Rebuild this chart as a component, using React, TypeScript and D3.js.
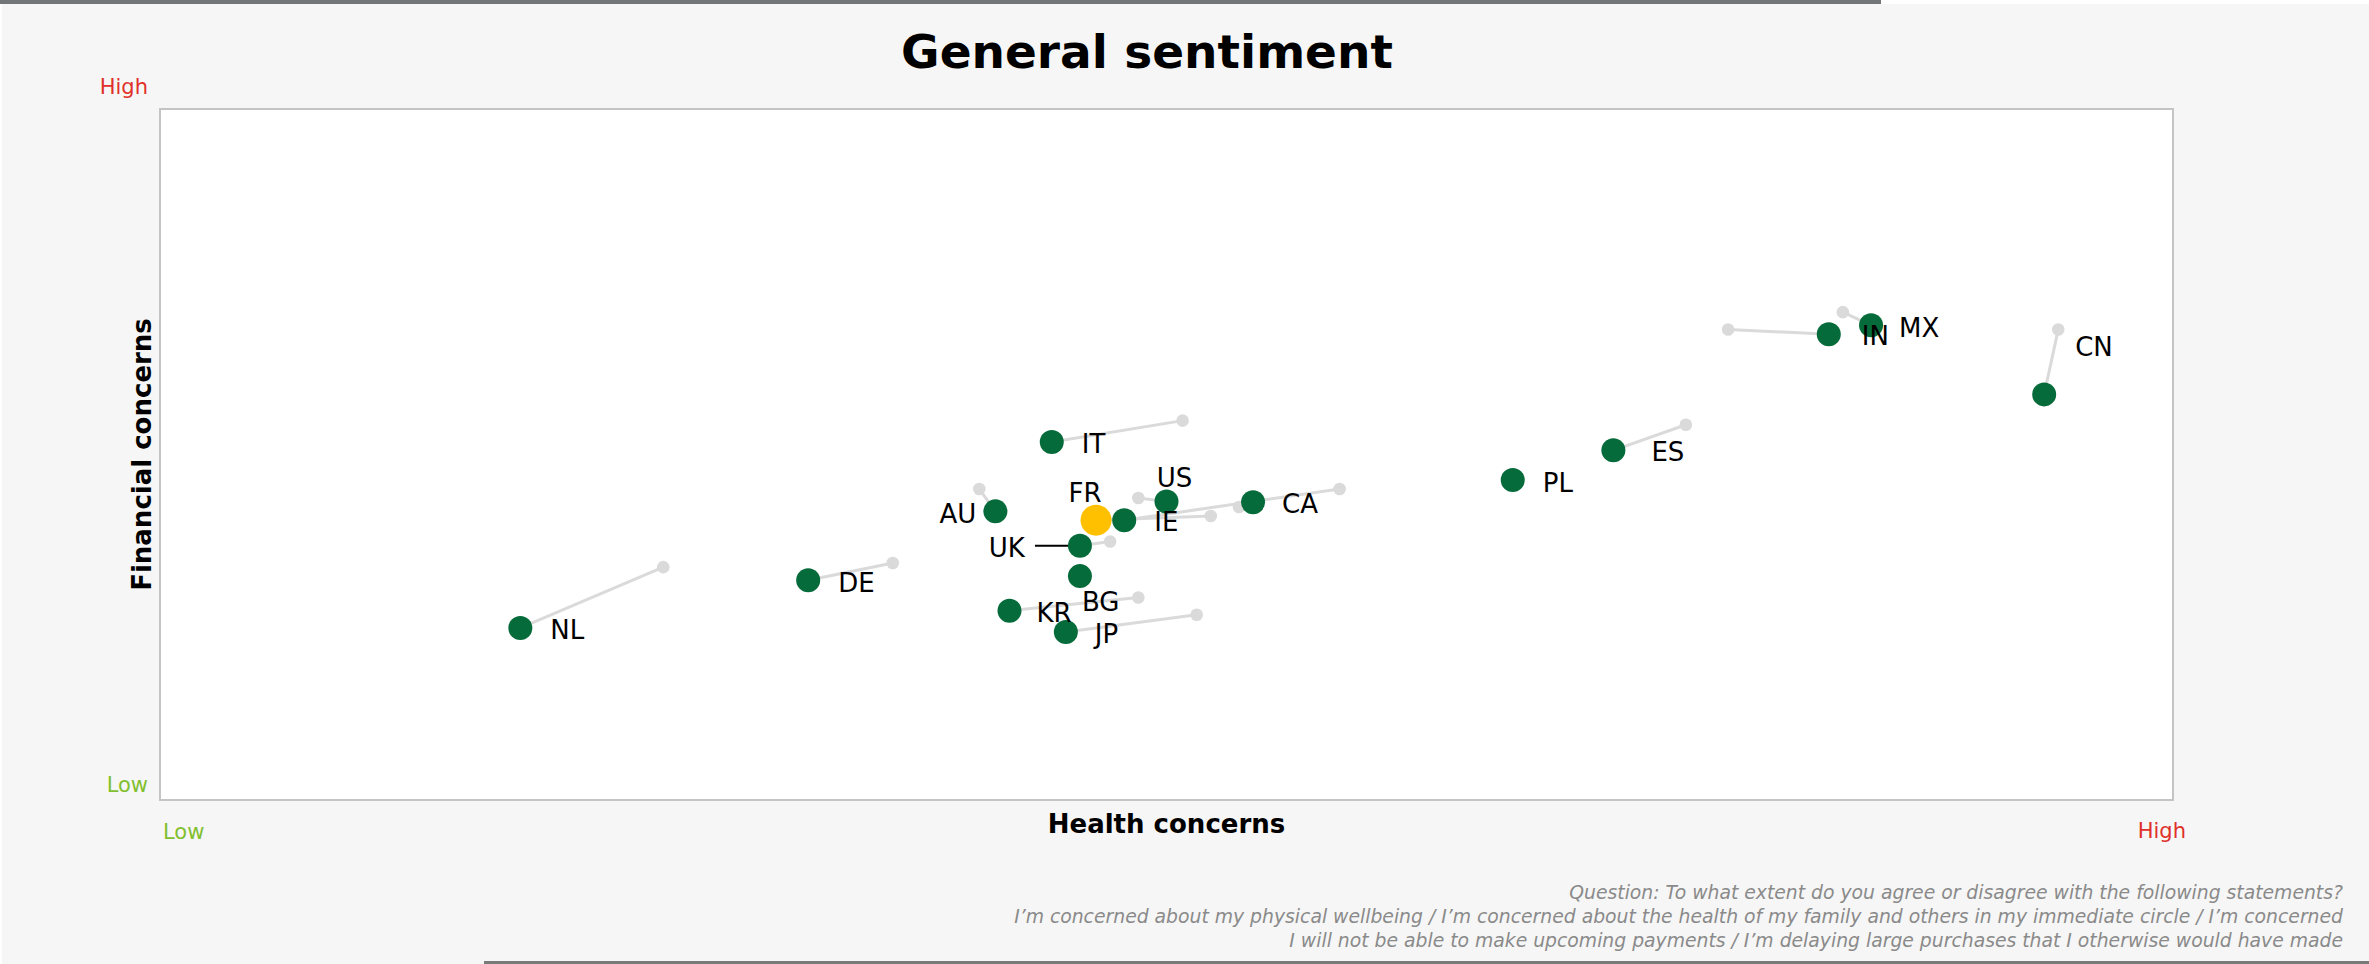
import React from "react";
import * as d3 from "d3";

const countries = ["NL", "DE", "AU", "IT", "FR", "US", "IE", "CA", "UK", "BG", "KR", "JP", "PL", "ES", "IN", "MX", "CN"];
const healthNow = [17.9, 32.2, 41.5, 44.3, 46.5, 50.0, 47.9, 54.3, 45.7, 45.7, 42.2, 45.0, 67.2, 72.2, 82.9, 85.0, 93.6];
const financialNow = [24.9, 31.8, 41.8, 51.8, 40.5, 43.2, 40.5, 43.1, 36.8, 32.4, 27.4, 24.3, 46.3, 50.6, 67.4, 68.7, 58.7];
const healthPrev: (number | null)[] = [25.0, 36.4, 40.7, 50.8, 52.2, 48.6, 58.6, 53.6, 47.2, null, 48.6, 51.5, null, 75.8, 77.9, 83.6, 94.3];
const financialPrev: (number | null)[] = [33.7, 34.3, 45.0, 54.9, 41.1, 43.7, 45.0, 42.4, 37.4, null, 29.3, 26.8, null, 54.3, 68.1, 70.6, 68.1];
const highlighted = "FR";

const title = "General sentiment";
const xAxisTitle = "Health concerns";
const yAxisTitle = "Financial concerns";
const lowLabel = "Low";
const highLabel = "High";
const footnotes = [
  "Question: To what extent do you agree or disagree with the following statements?",
  "I’m concerned about my physical wellbeing / I’m concerned about the health of my family and others in my immediate circle / I’m concerned",
  "I will not be able to make upcoming payments / I’m delaying large purchases that I otherwise would have made",
];

// label placement (layout only)
const labelPlacement: Record<string, { dx: number; dy: number; anchor: string; leader?: number }> = {
  NL: { dx: 30, dy: 11, anchor: "start" },
  DE: { dx: 30, dy: 12, anchor: "start" },
  AU: { dx: -19, dy: 12, anchor: "end" },
  IT: { dx: 30, dy: 11, anchor: "start" },
  FR: { dx: -11, dy: -18, anchor: "middle" },
  US: { dx: 8, dy: -14, anchor: "middle" },
  IE: { dx: 30, dy: 11, anchor: "start" },
  CA: { dx: 29, dy: 11, anchor: "start" },
  UK: { dx: -55, dy: 11, anchor: "end", leader: 45 },
  BG: { dx: 2, dy: 35, anchor: "start" },
  KR: { dx: 27, dy: 11, anchor: "start" },
  JP: { dx: 29, dy: 11, anchor: "start" },
  PL: { dx: 30, dy: 12, anchor: "start" },
  ES: { dx: 38, dy: 11, anchor: "start" },
  IN: { dx: 33, dy: 11, anchor: "start" },
  MX: { dx: 28, dy: 12, anchor: "start" },
  CN: { dx: 31, dy: -38, anchor: "start" },
};

const W = 2369;
const H = 964;
const FONT = "'DejaVu Sans', Verdana, sans-serif";

export default function App() {
  const left = 160, right = 2173, top = 109, bottom = 800;
  const x = d3.scaleLinear().domain([0, 100]).range([left, right]);
  const y = d3.scaleLinear().domain([0, 100]).range([bottom, top]);

  const green = "#066b3a";
  const yellow = "#ffc000";
  const grey = "#dadada";
  const red = "#e0302a";
  const lime = "#82bf2e";

  return (
    <svg width={W} height={H} style={{ position: "absolute", left: 0, top: 0, display: "block" }} fontFamily={FONT}>
      <rect x={0} y={0} width={W} height={H} fill="#ffffff" />
      <rect x={2} y={4} width={W - 2} height={H - 4} fill="#f6f6f6" />
      <rect x={0} y={0} width={1881} height={4} fill="#737679" />
      <rect x={484} y={961} width={W - 484} height={3} fill="#7a7a7a" />

      <text x={1147} y={68} textAnchor="middle" fontSize={47} fontWeight="bold" fill="#000">{title}</text>

      <rect x={left} y={top} width={right - left} height={bottom - top} fill="#ffffff" stroke="#c4c4c4" strokeWidth={2} />

      <text x={148} y={94} textAnchor="end" fontSize={21} fill={red}>{highLabel}</text>
      <text x={148} y={792} textAnchor="end" fontSize={21} fill={lime}>{lowLabel}</text>
      <text x={163} y={839} textAnchor="start" fontSize={21} fill={lime}>{lowLabel}</text>
      <text x={2186} y={838} textAnchor="end" fontSize={21} fill={red}>{highLabel}</text>

      <text x={(left + right) / 2} y={833} textAnchor="middle" fontSize={26} fontWeight="bold" fill="#000">{xAxisTitle}</text>
      <text transform={`translate(151,${(top + bottom) / 2}) rotate(-90)`} textAnchor="middle" fontSize={26} fontWeight="bold" fill="#000">{yAxisTitle}</text>

      <g>
        {countries.map((c, i) => {
          const hp = healthPrev[i], fp = financialPrev[i];
          if (hp == null || fp == null) return null;
          return (
            <line key={"l" + c} x1={x(healthNow[i])} y1={y(financialNow[i])} x2={x(hp)} y2={y(fp)} stroke={grey} strokeWidth={3} />
          );
        })}
        {countries.map((c, i) => {
          const hp = healthPrev[i], fp = financialPrev[i];
          if (hp == null || fp == null) return null;
          return <circle key={"p" + c} cx={x(hp)} cy={y(fp)} r={6.3} fill={grey} />;
        })}
        {countries.map((c, i) => {
          const lp = labelPlacement[c];
          if (!lp.leader) return null;
          const cx = x(healthNow[i]), cy = y(financialNow[i]);
          return <line key={"ld" + c} x1={cx - lp.leader} y1={cy} x2={cx} y2={cy} stroke="#000" strokeWidth={2} />;
        })}
        {countries.map((c, i) => (
          <circle
            key={"c" + c}
            cx={x(healthNow[i])}
            cy={y(financialNow[i])}
            r={c === highlighted ? 15.5 : 12}
            fill={c === highlighted ? yellow : green}
          />
        ))}
        {countries.map((c, i) => {
          const lp = labelPlacement[c];
          return (
            <text key={"t" + c} x={x(healthNow[i]) + lp.dx} y={y(financialNow[i]) + lp.dy} textAnchor={lp.anchor} fontSize={26} fill="#000">
              {c}
            </text>
          );
        })}
      </g>

      {footnotes.map((f, i) => (
        <text key={i} x={2343} y={899 + i * 24} textAnchor="end" fontSize={18.8} fontStyle="italic" fill="#8a8a8a">
          {f}
        </text>
      ))}
    </svg>
  );
}
